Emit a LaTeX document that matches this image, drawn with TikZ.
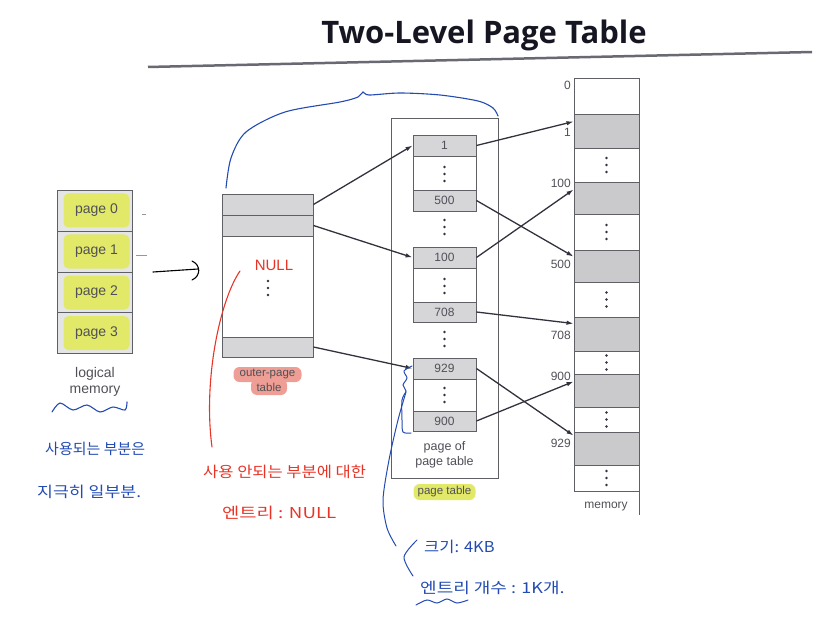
\documentclass[tikz,border=0pt]{standalone}
\usepackage{fontspec}
\usepackage{graphicx}
\setmainfont{Liberation Sans}
\newfontfamily\titlefont{Open Sans}
\newfontfamily\kr{Noto Sans CJK KR}
\usetikzlibrary{arrows.meta,calc}
\definecolor{ink}{RGB}{50,50,62}
\definecolor{titleink}{RGB}{22,22,34}
\definecolor{rulegray}{RGB}{105,105,115}
\definecolor{cellgray}{RGB}{214,214,216}
\definecolor{memgray}{RGB}{202,202,204}
\definecolor{rowbg}{RGB}{228,229,231}
\definecolor{hlyellow}{RGB}{226,232,104}
\definecolor{hlpink}{RGB}{238,158,148}
\definecolor{penblue}{RGB}{35,75,178}
\definecolor{penred}{RGB}{232,52,38}
\definecolor{border}{RGB}{95,95,102}
\definecolor{labelgray}{RGB}{80,80,88}
\begin{document}
\begin{tikzpicture}[x=1pt,y=-1pt,
  cell/.style={draw=border, line width=0.9pt, inner sep=0pt, minimum width=63pt,
    font=\fontsize{12}{12}\selectfont, text=labelgray},
  gcell/.style={cell, fill=cellgray},
  wcell/.style={cell, fill=white},
  ocell/.style={cell, minimum width=91pt, fill=cellgray},
  mcell/.style={cell, minimum width=65pt, fill=white},
  mgcell/.style={cell, minimum width=65pt, fill=memgray},
  lmrow/.style={draw=border, line width=0.9pt, fill=rowbg, minimum width=75pt, minimum height=41pt, inner sep=0pt},
  hly/.style={fill=hlyellow, rounded corners=5pt, minimum width=66pt, minimum height=34pt, inner sep=0pt,
    font=\fontsize{14}{14}\selectfont, text=labelgray},
  hlsmall/.style={rounded corners=6pt, inner sep=2pt, font=\fontsize{11.5}{12}\selectfont, text=labelgray},
  lbl/.style={font=\fontsize{12}{12}\selectfont, text=labelgray, inner sep=0pt},
  conn/.style={draw=ink, line width=1.3pt, -{Latex[length=7pt,width=4.5pt]}},
  pen/.style={font=\kr\fontsize{15}{16}\selectfont, inner sep=0pt, anchor=west},
  vdts/.pic={\foreach \d in {-7,0,7} \fill[ink] (0,\d) circle (1.3pt);}
]
\useasboundingbox (0,0) rectangle (813,628);

% title
\node[font=\titlefont\bfseries\fontsize{31}{34}\selectfont, text=titleink] (title) at (484,35) {Two-Level Page Table};
\draw[rulegray, line width=2.5pt] (148,67) -- (812,52);

% logical memory
\node[lmrow] (lm0) at (94.5,210.5) {};
\node[lmrow] (lm1) at (94.5,251.5) {};
\node[lmrow] (lm2) at (94.5,292.5) {};
\node[lmrow] (lm3) at (94.5,333) {};
\node[hly] (h0) at (96.5,210.5) {page 0};
\node[hly] (h1) at (96.5,251.5) {page 1};
\node[hly] (h2) at (96.5,292.5) {page 2};
\node[hly] (h3) at (96.5,333) {page 3};
\node[lbl, align=center, font=\fontsize{14}{16.5}\selectfont] (lmlab) at (95,382) {logical\\memory};
\draw[labelgray!60, line width=0.8pt] (142,214) -- (146,214);
\draw[labelgray!60, line width=0.8pt] (136,255) -- (147,255);

% hand-drawn arrow
\coordinate (ha1) at (153,272);
\coordinate (ha2) at (198,269);
\draw[black, line width=1.1pt, line cap=round] (ha1) -- (ha2);
\draw[black, line width=1.1pt, line cap=round] (192,261) .. controls (201,265) and (201,276) .. (192,280);

% outer page table
\node[ocell] (o1) [minimum height=21pt] at (267.5,204.5) {};
\node[ocell] (o2) [minimum height=21pt] at (267.5,225.5) {};
\node[ocell, fill=white] (ow) [minimum height=101pt] at (267.5,286.5) {};
\node[ocell] (o3) [minimum height=20pt] at (267.5,347) {};
\pic at (268,288) {vdts};
\node[hlsmall, fill=hlpink, minimum width=68pt, minimum height=15pt] (opl1) at (267.5,374.5) {};
\node[hlsmall, fill=hlpink, minimum width=36pt, minimum height=16pt] (opl2) at (269,387) {};
\node[lbl, font=\fontsize{11.5}{12}\selectfont] (opt1) at (267.5,374) {outer-page};
\node[lbl, font=\fontsize{11.5}{12}\selectfont] (opt2) at (269,387.5) {table};

% page table container
\node[draw=border, line width=0.9pt, minimum width=107pt, minimum height=360pt, inner sep=0pt] (ptbox) at (444.5,298) {};
\node[gcell, minimum height=21pt] (p1) at (444.5,145.5) {1};
\node[wcell, minimum height=34pt] (pw1) at (444.5,173) {};
\node[gcell, minimum height=21pt] (p500) at (444.5,200.5) {500};
\node[gcell, minimum height=21pt] (p100) at (444.5,257.5) {100};
\node[wcell, minimum height=34pt] (pw2) at (444.5,285) {};
\node[gcell, minimum height=20pt] (p708) at (444.5,312) {708};
\node[gcell, minimum height=21pt] (p929) at (444.5,368.5) {929};
\node[wcell, minimum height=32pt] (pw3) at (444.5,395) {};
\node[gcell, minimum height=20pt] (p900) at (444.5,421) {900};
\pic at (444.5,174) {vdts};
\pic at (444.5,227) {vdts};
\pic at (444.5,286) {vdts};
\pic at (444.5,339) {vdts};
\pic at (444.5,395) {vdts};
\node[lbl, align=center, font=\fontsize{12.5}{15}\selectfont] (pplab) at (444.5,455) {page of\\page table};
\node[hlsmall, fill=hlyellow, minimum width=62pt, minimum height=16pt] (ptl) at (444.5,492) {page table};

% memory
\node[mcell, minimum height=36pt] (m0) at (606.5,96) {};
\node[mgcell, minimum height=34pt] (m1) at (606.5,131) {};
\node[mcell, minimum height=34pt] (mw1) at (606.5,165) {};
\node[mgcell, minimum height=32pt] (m100) at (606.5,198) {};
\node[mcell, minimum height=36pt] (mw2) at (606.5,232) {};
\node[mgcell, minimum height=32pt] (m500) at (606.5,266) {};
\node[mcell, minimum height=35pt] (mw3) at (606.5,299.5) {};
\node[mgcell, minimum height=34pt] (m708) at (606.5,334) {};
\node[mcell, minimum height=23pt] (mw4) at (606.5,362.5) {};
\node[mgcell, minimum height=33pt] (m900) at (606.5,390.5) {};
\node[mcell, minimum height=25pt] (mw5) at (606.5,419.5) {};
\node[mgcell, minimum height=33pt] (m929) at (606.5,448.5) {};
\node[mcell, minimum height=26pt] (mw6) at (606.5,478) {};
\draw[border, line width=0.9pt] (mw6.south east) -- ++(0,24);
\pic at (606.5,165) {vdts};
\pic at (606.5,232) {vdts};
\pic at (606.5,299.5) {vdts};
\pic at (606.5,362.5) {vdts};
\pic at (606.5,419.5) {vdts};
\pic at (606.5,478) {vdts};
\node[lbl, anchor=east] (l0) at (571,85) {0};
\node[lbl, anchor=east] (l1) at (571,132) {1};
\node[lbl, anchor=east] (l100) at (571,183) {100};
\node[lbl, anchor=east] (l500) at (571,264) {500};
\node[lbl, anchor=east] (l708) at (571,335) {708};
\node[lbl, anchor=east] (l900) at (571,376) {900};
\node[lbl, anchor=east] (l929) at (571,443) {929};
\node[lbl] (mlab) at (606,507) {memory};

% connectors
\draw[conn] (o1.east) -- (p1.west);
\draw[conn] (o2.east) -- (p100.west);
\draw[conn] (o3.east) -- (p929.west);
\draw[conn] (p1.east) -- ($(m1.north west)+(0,8)$);
\draw[conn] (p500.east) -- ($(m500.north west)+(0,7)$);
\draw[conn] (p100.east) -- ($(m100.north west)+(0,8)$);
\draw[conn] (p708.east) -- ($(m708.north west)+(0,7)$);
\draw[conn] (p929.east) -- ($(m929.north west)+(0,4)$);
\draw[conn] (p900.east) -- ($(m900.north west)+(0,8)$);

% handwritten annotations
\draw[penblue, line width=1.1pt, line cap=round] plot[smooth] coordinates {(226,188) (231,158) (246,132) (285,112) (340,102) (358,97) (363,92) (369,95) (400,93) (440,95) (478,101) (493,108) (498,116)};
\draw[penblue, line width=1.1pt, line cap=round] plot[smooth] coordinates {(52,412) (60,403) (73,410) (87,405) (100,412) (113,407) (125,410) (127,402)};
\node[pen, text=penblue] (k1) at (45,449) {사용되는 부분은};
\node[pen, text=penblue] (k2) at (37,492) {\scalebox{1.15}[1]{지극히 일부분.}};

\node[font=\fontsize{15}{16}\selectfont, text=penred, inner sep=0pt] (null) at (274,265) {NULL};
\draw[penred, line width=1.1pt, line cap=round] (240,271) .. controls (220,300) and (203,380) .. (212,447);
\node[pen, text=penred] (k3) at (203,472) {\scalebox{1.1}[1]{사용 안되는 부분에 대한}};
\node[pen, text=penred] (k4) at (222,513) {\scalebox{1.25}[1]{엔트리 : NULL}};

\draw[penblue, line width=1pt, line cap=round] plot[smooth] coordinates {(412,366) (404,371) (407,378) (403,385) (406,391) (402,400) (402,420) (403,432) (411,433)};
\draw[penblue, line width=1pt, line cap=round] plot[smooth] coordinates {(406,392) (398,420) (389,460) (383,500) (387,528) (396,546)};
\draw[penblue, line width=1pt, line cap=round] plot[smooth] coordinates {(417,540) (404,557) (413,576)};
\node[pen, text=penblue] (k5) at (424,547) {\scalebox{1.1}[1]{크기: 4KB}};
\node[pen, text=penblue] (k6) at (420,588) {\scalebox{1.2}[1]{엔트리 개수 : 1K개.}};
\draw[penblue, line width=1pt, line cap=round] plot[smooth] coordinates {(416,605) (427,600) (437,603) (447,599) (457,603) (468,600)};
\end{tikzpicture}
\end{document}
